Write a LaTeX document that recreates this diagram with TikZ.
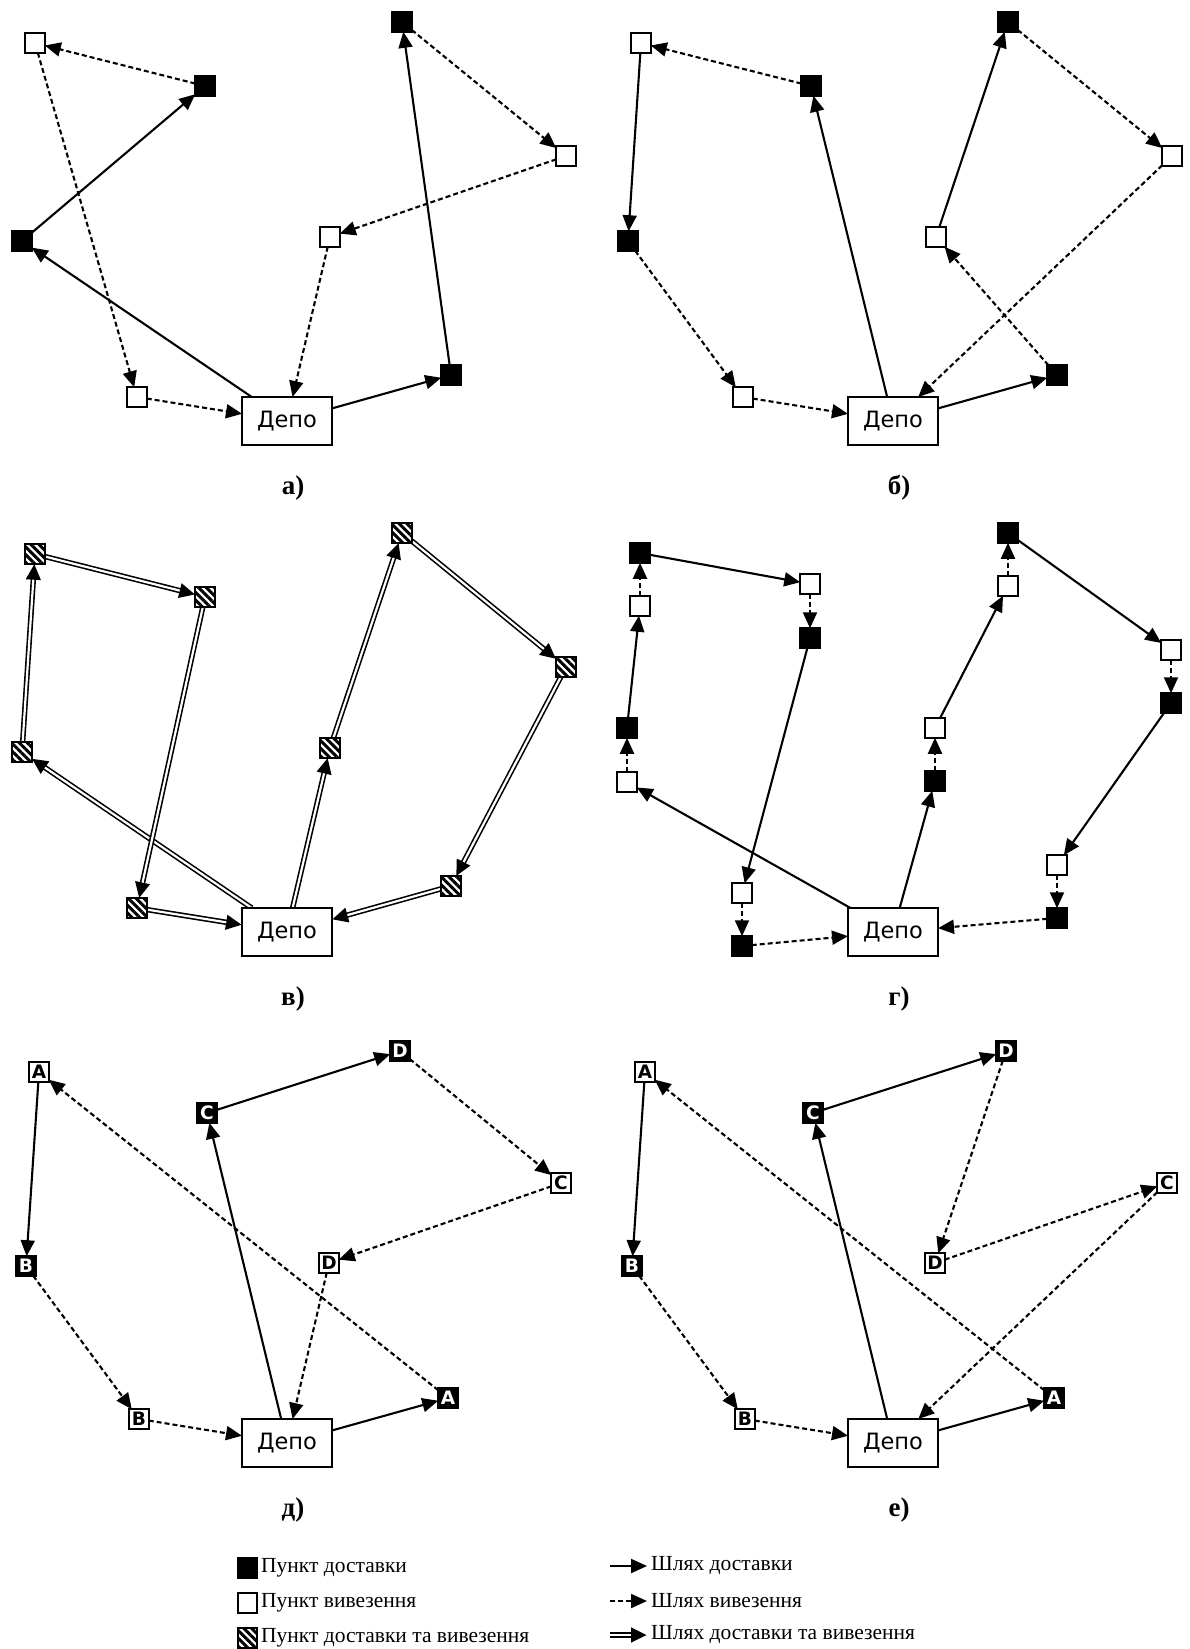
\documentclass[tikz,border=0pt]{standalone}
\usepackage{fontspec}
\setmainfont{Liberation Serif}
\newfontfamily\dvs{DejaVu Sans}
\usetikzlibrary{arrows.meta,patterns.meta}
\pgfdeclarelayer{bg}
\pgfsetlayers{bg,main}
\tikzset{
  sq/.style={draw=black, line width=1.7pt, minimum size=19.5pt, inner sep=0pt, outer sep=0pt},
  bsq/.style={sq, fill=black, text=white, font=\dvs\bfseries\fontsize{18.5}{18.5}\selectfont},
  wsq/.style={sq, fill=white, text=black, font=\dvs\bfseries\fontsize{18.5}{18.5}\selectfont},
  hsq/.style={sq, preaction={fill=white}, pattern={Lines[angle=-45,distance=5.5pt,line width=3pt]}},
  depot/.style={draw, line width=1.9pt, fill=white, minimum width=90pt, minimum height=48pt, inner sep=0pt, outer sep=0pt, font=\dvs\fontsize{22.5}{26}\selectfont},
  lbl/.style={font=\bfseries\fontsize{27}{30}\selectfont, inner sep=0pt},
  tipa/.style={-{Triangle[length=16pt,width=14pt]}},
  del/.style={line width=2.1pt, tipa},
  pick/.style={del, dash pattern=on 5pt off 3pt},
  bothout/.style={line width=5.4pt, tipa},
  bothin/.style={line width=2.2pt, white, shorten >=16pt},
  legtxt/.style={anchor=west, inner sep=0pt, font=\fontsize{21.5}{24}\selectfont},
}
\newcommand\dblarrow[2]{\draw[bothout] (#1) -- (#2); \draw[bothin] (#1) -- (#2);}
\begin{document}
\begin{tikzpicture}[x=1pt,y=-1pt]
\useasboundingbox (0,0) rectangle (1190,1649);

% ---------- panel a ----------
\begin{scope}
\node[wsq] (aW1) at (35,43) {};
\node[bsq] (aB1) at (205,86) {};
\node[bsq] (aB2) at (22,241) {};
\node[wsq] (aW2) at (137,397) {};
\node[bsq] (aB3) at (402,22) {};
\node[wsq] (aW3) at (566,156) {};
\node[wsq] (aW4) at (330,237) {};
\node[bsq] (aB4) at (451,375) {};
\node[depot] (aD) at (287,421) {Депо};
\node[lbl] (aL) at (293,488) {а)};
\begin{pgfonlayer}{bg}
\draw[pick] (aB1) -- (aW1);
\draw[pick] (aW1) -- (aW2);
\draw[pick] (aW2) -- (aD);
\draw[del] (aD) -- (aB2);
\draw[del] (aB2) -- (aB1);
\draw[del] (aD) -- (aB4);
\draw[del] (aB4) -- (aB3);
\draw[pick] (aB3) -- (aW3);
\draw[pick] (aW3) -- (aW4);
\draw[pick] (aW4) -- (aD);
\end{pgfonlayer}
\end{scope}

% ---------- panel b ----------
\begin{scope}[shift={(606,0)}]
\node[wsq] (bW1) at (35,43) {};
\node[bsq] (bB1) at (205,86) {};
\node[bsq] (bB2) at (22,241) {};
\node[wsq] (bW2) at (137,397) {};
\node[bsq] (bB3) at (402,22) {};
\node[wsq] (bW3) at (566,156) {};
\node[wsq] (bW4) at (330,237) {};
\node[bsq] (bB4) at (451,375) {};
\node[depot] (bD) at (287,421) {Депо};
\node[lbl] (bL) at (293,488) {б)};
\begin{pgfonlayer}{bg}
\draw[pick] (bB1) -- (bW1);
\draw[del] (bW1) -- (bB2);
\draw[pick] (bB2) -- (bW2);
\draw[pick] (bW2) -- (bD);
\draw[del] (bD) -- (bB1);
\draw[del] (bD) -- (bB4);
\draw[pick] (bB4) -- (bW4);
\draw[del] (bW4) -- (bB3);
\draw[pick] (bB3) -- (bW3);
\draw[pick] (bW3) -- (bD);
\end{pgfonlayer}
\end{scope}

% ---------- panel v ----------
\begin{scope}[shift={(0,511)}]
\node[hsq] (vH1) at (35,43) {};
\node[hsq] (vH2) at (205,86) {};
\node[hsq] (vH3) at (22,241) {};
\node[hsq] (vH4) at (137,397) {};
\node[hsq] (vH5) at (402,22) {};
\node[hsq] (vH6) at (566,156) {};
\node[hsq] (vH7) at (330,237) {};
\node[hsq] (vH8) at (451,375) {};
\node[depot] (vD) at (287,421) {Депо};
\node[lbl] (vL) at (293,488) {в)};
\begin{pgfonlayer}{bg}
\dblarrow{vD}{vH3}
\dblarrow{vH3}{vH1}
\dblarrow{vH1}{vH2}
\dblarrow{vH2}{vH4}
\dblarrow{vH4}{vD}
\dblarrow{vD}{vH7}
\dblarrow{vH7}{vH5}
\dblarrow{vH5}{vH6}
\dblarrow{vH6}{vH8}
\dblarrow{vH8}{vD}
\end{pgfonlayer}
\end{scope}

% ---------- panel g ----------
\begin{scope}[shift={(606,511)}]
\node[bsq] (gB1) at (34,42) {};
\node[wsq] (gW1) at (34,95) {};
\node[bsq] (gB2) at (21,217) {};
\node[wsq] (gW2) at (21,271) {};
\node[wsq] (gW3) at (204,73) {};
\node[bsq] (gB3) at (204,127) {};
\node[wsq] (gW4) at (136,382) {};
\node[bsq] (gB4) at (136,435) {};
\node[bsq] (gB5) at (402,22) {};
\node[wsq] (gW5) at (402,75) {};
\node[wsq] (gW6) at (565,139) {};
\node[bsq] (gB6) at (565,192) {};
\node[wsq] (gW7) at (329,217) {};
\node[bsq] (gB7) at (329,270) {};
\node[wsq] (gW8) at (451,354) {};
\node[bsq] (gB8) at (451,407) {};
\node[depot] (gD) at (287,421) {Депо};
\node[lbl] (gL) at (293,488) {г)};
\begin{pgfonlayer}{bg}
\draw[del] (gD) -- (gW2);
\draw[pick] (gW2) -- (gB2);
\draw[del] (gB2) -- (gW1);
\draw[pick] (gW1) -- (gB1);
\draw[del] (gB1) -- (gW3);
\draw[pick] (gW3) -- (gB3);
\draw[del] (gB3) -- (gW4);
\draw[pick] (gW4) -- (gB4);
\draw[pick] (gB4) -- (gD);
\draw[del] (gD) -- (gB7);
\draw[pick] (gB7) -- (gW7);
\draw[del] (gW7) -- (gW5);
\draw[pick] (gW5) -- (gB5);
\draw[del] (gB5) -- (gW6);
\draw[pick] (gW6) -- (gB6);
\draw[del] (gB6) -- (gW8);
\draw[pick] (gW8) -- (gB8);
\draw[pick] (gB8) -- (gD);
\end{pgfonlayer}
\end{scope}

% ---------- panel d ----------
\begin{scope}[shift={(0,1022)}]
\node[wsq] (dAw) at (39,50) {A};
\node[bsq] (dCb) at (207,91) {C};
\node[bsq] (dDb) at (400,29) {D};
\node[wsq] (dCw) at (561,161) {C};
\node[wsq] (dDw) at (329,241) {D};
\node[bsq] (dBb) at (26,244) {B};
\node[wsq] (dBw) at (139,397) {B};
\node[bsq] (dAb) at (448,376) {A};
\node[depot] (dD) at (287,421) {Депо};
\node[lbl] (dL) at (293,488) {д)};
\begin{pgfonlayer}{bg}
\draw[del] (dAw) -- (dBb);
\draw[pick] (dBb) -- (dBw);
\draw[pick] (dBw) -- (dD);
\draw[del] (dD) -- (dCb);
\draw[del] (dCb) -- (dDb);
\draw[pick] (dDb) -- (dCw);
\draw[pick] (dCw) -- (dDw);
\draw[pick] (dDw) -- (dD);
\draw[del] (dD) -- (dAb);
\draw[pick] (dAb) -- (dAw);
\end{pgfonlayer}
\end{scope}

% ---------- panel e ----------
\begin{scope}[shift={(606,1022)}]
\node[wsq] (eAw) at (39,50) {A};
\node[bsq] (eCb) at (207,91) {C};
\node[bsq] (eDb) at (400,29) {D};
\node[wsq] (eCw) at (561,161) {C};
\node[wsq] (eDw) at (329,241) {D};
\node[bsq] (eBb) at (26,244) {B};
\node[wsq] (eBw) at (139,397) {B};
\node[bsq] (eAb) at (448,376) {A};
\node[depot] (eD) at (287,421) {Депо};
\node[lbl] (eL) at (293,488) {е)};
\begin{pgfonlayer}{bg}
\draw[del] (eAw) -- (eBb);
\draw[pick] (eBb) -- (eBw);
\draw[pick] (eBw) -- (eD);
\draw[del] (eD) -- (eCb);
\draw[del] (eCb) -- (eDb);
\draw[pick] (eDb) -- (eDw);
\draw[pick] (eDw) -- (eCw);
\draw[pick] (eCw) -- (eD);
\draw[del] (eD) -- (eAb);
\draw[pick] (eAb) -- (eAw);
\end{pgfonlayer}
\end{scope}

% ---------- legend ----------
\node[bsq] (lgB) at (247.5,1568) {};
\node[legtxt] (lgBt) at (261,1568) {Пункт доставки};
\node[wsq] (lgW) at (247.5,1603) {};
\node[legtxt] (lgWt) at (261,1603) {Пункт вивезення};
\node[hsq] (lgH) at (247.5,1638) {};
\node[legtxt] (lgHt) at (261,1638) {Пункт доставки та вивезення};

\coordinate (l1a) at (610,1566);
\coordinate (l1b) at (647,1566);
\coordinate (l2a) at (610,1601);
\coordinate (l2b) at (647,1601);
\coordinate (l3a) at (610,1635);
\coordinate (l3b) at (647,1635);
\draw[del] (l1a) -- (l1b);
\draw[pick] (l2a) -- (l2b);
\dblarrow{l3a}{l3b}
\node[legtxt] (lt1) at (651,1566) {Шлях доставки};
\node[legtxt] (lt2) at (651,1601) {Шлях вивезення};
\node[legtxt] (lt3) at (651,1635) {Шлях доставки та вивезення};
\end{tikzpicture}
\end{document}
